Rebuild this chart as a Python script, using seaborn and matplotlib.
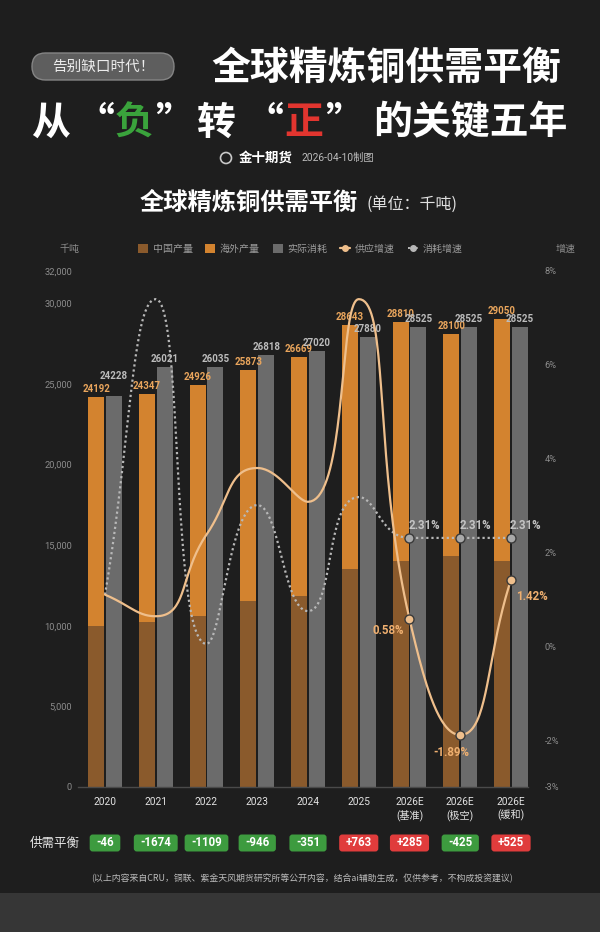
import numpy as np
import pandas as pd
import matplotlib
matplotlib.use("Agg")
import matplotlib.pyplot as plt
import seaborn as sns
from matplotlib.patches import Patch, FancyBboxPatch, Circle, Rectangle
from matplotlib.lines import Line2D
from matplotlib.transforms import blended_transform_factory, IdentityTransform
from matplotlib.ticker import FixedLocator, FuncFormatter

# ---------------- data ----------------
categories = ['2020', '2021', '2022', '2023', '2024', '2025',
              '2026E\n(基准)', '2026E\n(极空)', '2026E\n(缓和)']
china_output = [10000, 10250, 10600, 11550, 11850, 13550, 14000, 14300, 14000]
total_supply = [24192, 24347, 24926, 25873, 26669, 28643, 28810, 28100, 29050]
consumption = [24228, 26021, 26035, 26818, 27020, 27880, 28525, 28525, 28525]
supply_growth = [1.10, 0.64, 2.38, 3.80, 3.08, 7.40, 0.58, -1.89, 1.42]
consumption_growth = [1.10, 7.40, 0.05, 3.01, 0.75, 3.18, 2.31, 2.31, 2.31]
balance = [-46, -1674, -1109, -946, -351, 763, 285, -425, 525]
left_ticks = [0, 5000, 10000, 15000, 20000, 25000, 30000, 32000]
right_ticks = [-3, -2, 0, 2, 4, 6, 8]
legend_labels = ['中国产量', '海外产量', '实际消耗', '供应增速', '消耗增速']

# ---------------- style ----------------
BG = '#1e1e1e'
ORANGE = '#d3832f'
BROWN = '#8a5a2c'
GRAY = '#6b6b6b'
PEACH = '#efbf8c'
LGRAY = '#b8b8b8'
GREEN = '#3d9b3f'
RED = '#e03c3c'
CJK = ['Noto Sans CJK SC', 'DejaVu Sans']
NUM = ['Roboto', 'Noto Sans CJK SC', 'DejaVu Sans']

sns.set_theme(style='ticks')
plt.rcParams['font.family'] = NUM
plt.rcParams['axes.unicode_minus'] = False

W, H = 600, 932
fig = plt.figure(figsize=(W / 100, H / 100), dpi=100, facecolor=BG)


def fy(y):
    return 1 - y / H


def fx(x):
    return x / W


ax = fig.add_axes([fx(78), fy(787), 450 / W, 516 / H])
ax.set_facecolor('none')

# bars: total supply (orange) and consumption (gray)
df = pd.DataFrame({'cat': categories * 2,
                   'series': ['供应'] * len(categories) + ['消耗'] * len(categories),
                   'val': total_supply + consumption})
sns.barplot(data=df, x='cat', y='val', hue='series', hue_order=['供应', '消耗'],
            palette=[ORANGE, GRAY], width=0.7, gap=0.1, saturation=1,
            errorbar=None, legend=False, linewidth=0, ax=ax)
supply_bars = list(ax.containers[0])
cons_bars = list(ax.containers[1])

# China portion overlay
df2 = pd.DataFrame({'cat': categories * 2,
                    'series': ['供应'] * len(categories) + ['消耗'] * len(categories),
                    'val': china_output + [0] * len(categories)})
sns.barplot(data=df2, x='cat', y='val', hue='series', hue_order=['供应', '消耗'],
            palette=[BROWN, GRAY], width=0.7, gap=0.1, saturation=1,
            errorbar=None, legend=False, linewidth=0, ax=ax)

ax.set_xlim(-0.532, 8.335)
ax.set_ylim(0, 32000)
ax.set_xlabel('')
ax.set_ylabel('')
ax.yaxis.set_major_locator(FixedLocator(left_ticks))
ax.yaxis.set_major_formatter(FuncFormatter(lambda v, p: f'{int(v):,}'))
ax.tick_params(axis='y', length=0, pad=4.3, labelcolor='#8c8c8c', labelsize=6.7)
ax.tick_params(axis='x', length=0, pad=7, labelcolor='#e2e2e2', labelsize=7.3)
for lab in ax.get_xticklabels():
    lab.set_fontfamily(NUM)
    lab.set_linespacing(1.35)
for s in ['left', 'right', 'top']:
    ax.spines[s].set_visible(False)
ax.spines['bottom'].set_color('#4a4a4a')
ax.spines['bottom'].set_linewidth(1.0)
ax.grid(False)

# bar value labels
for i, (rs, rc) in enumerate(zip(supply_bars, cons_bars)):
    cx = rs.get_x() + rs.get_width() / 2
    ax.annotate(f'{total_supply[i]}', (cx, total_supply[i]), xytext=(0, 5.8),
                textcoords='offset points', ha='center', va='center',
                fontsize=7, fontweight='bold', color='#e9a55c', family=NUM)
    cx2 = rc.get_x() + rc.get_width() / 2
    off = 14.4 if i == 0 else 5.8
    ax.annotate(f'{consumption[i]}', (cx2, consumption[i]), xytext=(0, off),
                textcoords='offset points', ha='center', va='center',
                fontsize=7, fontweight='bold', color='#bcbcbc', family=NUM)

# ---------------- growth lines ----------------
ax2 = ax.twinx()
ax2.set_ylim(-3, 8)
ax2.yaxis.set_major_locator(FixedLocator(right_ticks))
ax2.yaxis.set_major_formatter(FuncFormatter(lambda v, p: f'{int(v)}%'))
ax2.tick_params(axis='y', length=0, pad=12, labelcolor='#8c8c8c', labelsize=6.7)
for s in ['left', 'right', 'top', 'bottom']:
    ax2.spines[s].set_visible(False)
ax2.grid(False)
ax2.set_ylabel('')


def smooth_curve(ys, sx=50.75, sy=47.0, smooth=0.5, n=40):
    xs = np.arange(len(ys), dtype=float)
    P = np.column_stack([xs * sx, np.asarray(ys, float) * sy])
    N = len(P)
    cin = P.copy()
    cout = P.copy()
    for i in range(N):
        cur = P[i]
        prev = P[i - 1] if i > 0 else P[i]
        nxt = P[i + 1] if i < N - 1 else P[i]
        v = nxt - prev
        l0 = np.hypot(*(cur - prev))
        l1 = np.hypot(*(nxt - cur))
        if l0 + l1 == 0:
            continue
        r = l1 / (l0 + l1)
        co = cur + v * smooth * r
        ci = cur - v * smooth * (1 - r)
        if i < N - 1:
            co = np.clip(co, np.minimum(cur, nxt), np.maximum(cur, nxt))
            if l0 > 0:
                ci = cur - (co - cur) * l0 / l1
        if i > 0:
            ci = np.clip(ci, np.minimum(prev, cur), np.maximum(prev, cur))
            if l1 > 0:
                co = cur + (cur - ci) * l1 / l0
        cin[i] = ci
        cout[i] = co
    t = np.linspace(0, 1, n)[:, None]
    segs = []
    for i in range(N - 1):
        p0, p1, p2, p3 = P[i], cout[i], cin[i + 1], P[i + 1]
        b = ((1 - t) ** 3) * p0 + 3 * ((1 - t) ** 2) * t * p1 + 3 * (1 - t) * t ** 2 * p2 + t ** 3 * p3
        segs.append(b if i == 0 else b[1:])
    B = np.vstack(segs)
    return B[:, 0] / sx, B[:, 1] / sy


sx_, sy_ = smooth_curve(supply_growth)
cx_, cy_ = smooth_curve(consumption_growth)
ax2.plot(cx_, cy_, color=LGRAY, lw=1.6, linestyle=(0, (1, 1.3)), zorder=3)
ax2.plot(sx_, sy_, color=PEACH, lw=1.6, zorder=4)

idx_e = [6, 7, 8]
ax2.plot(idx_e, [consumption_growth[i] for i in idx_e], linestyle='none', marker='o',
         ms=6.5, mfc='#a9a9a9', mec='#3a3a3a', mew=1.0, zorder=5)
ax2.plot(idx_e, [supply_growth[i] for i in idx_e], linestyle='none', marker='o',
         ms=6.5, mfc=PEACH, mec='#3a3a3a', mew=1.0, zorder=6)

for i in idx_e:
    ax2.annotate(f'{consumption_growth[i]:.2f}%', (i, consumption_growth[i]),
                 xytext=(-0.7, 8.6), textcoords='offset points', ha='left', va='center',
                 fontsize=8.3, fontweight='bold', color='#c4c4c4', family=NUM, zorder=7)
sup_offsets = {6: (-4.3, -8.0, 'right'), 7: (-6.5, -13.0, 'center'), 8: (3.6, -12.0, 'left')}
for i, (dx, dy, ha) in sup_offsets.items():
    ax2.annotate(f'{supply_growth[i]:.2f}%', (i, supply_growth[i]),
                 xytext=(dx, dy), textcoords='offset points', ha=ha, va='center',
                 fontsize=8.3, fontweight='bold', color='#f0b070', family=NUM, zorder=7)

# ---------------- legend & axis captions ----------------
handles = [Patch(facecolor=BROWN, edgecolor='none'),
           Patch(facecolor=ORANGE, edgecolor='none'),
           Patch(facecolor=GRAY, edgecolor='none'),
           Line2D([0], [0], color=PEACH, lw=1.6, marker='o', ms=4, mfc=PEACH, mec=PEACH),
           Line2D([0], [0], color=LGRAY, lw=1.4, linestyle=(0, (1, 1)), marker='o', ms=4,
                  mfc=LGRAY, mec=LGRAY)]
leg = fig.legend(handles, legend_labels, loc='center', bbox_to_anchor=(fx(300), fy(249)),
                 ncol=5, frameon=False, labelcolor='#9a9a9a',
                 handlelength=1.0, handleheight=0.9, handletextpad=0.5, columnspacing=1.25,
                 prop={'family': CJK, 'size': 7.2})
fig.text(fx(69), fy(249), '千吨', ha='center', va='center', fontsize=7.2,
         color='#8c8c8c', family=CJK)
fig.text(fx(566), fy(249), '增速', ha='center', va='center', fontsize=7.2,
         color='#8c8c8c', family=CJK)

# chart title
fig.text(fx(140), fy(203), '全球精炼铜供需平衡', ha='left', va='center', fontsize=17.5,
         fontweight='bold', color='white', family=CJK)
fig.text(fx(367), fy(204), '(单位：千吨)', ha='left', va='center', fontsize=11.5,
         color='#e0e0e0', family=CJK)

# ---------------- header ----------------
pill = FancyBboxPatch((32, H - 80), 142, 27, boxstyle='round,pad=0,rounding_size=13.5',
                      transform=IdentityTransform(), facecolor='#5e5e5e',
                      edgecolor='#858585', linewidth=1.0, zorder=1)
fig.add_artist(pill)
fig.text(fx(103), fy(66.5), '告别缺口时代！', ha='center', va='center', fontsize=10.5,
         color='#ececec', family=CJK, zorder=2)
fig.text(fx(386), fy(68), '全球精炼铜供需平衡', ha='center', va='center', fontsize=28,
         fontweight='bold', color='white', family=CJK)

line2 = [('从', 50, 'center', 'white'), ('“', 114, 'right', 'white'),
         ('负', 134, 'center', '#3aa33c'), ('”', 155, 'left', 'white'),
         ('转', 216, 'center', 'white'), ('“', 283, 'right', 'white'),
         ('正', 304, 'center', '#e2352f'), ('”', 325, 'left', 'white'),
         ('的关键五年', 373, 'left', 'white')]
for ch, x, ha, c in line2:
    fig.text(fx(x), fy(123), ch, ha=ha, va='center', fontsize=28,
             fontweight='bold', color=c, family=CJK)

logo = Circle((226, H - 158), 5.5, transform=IdentityTransform(), facecolor='none',
              edgecolor='#c8c8c8', linewidth=1.2)
fig.add_artist(logo)
fig.text(fx(239), fy(158), '金十期货', ha='left', va='center', fontsize=9.7,
         fontweight='bold', color='white', family=CJK)
fig.text(fx(302), fy(158), '2026-04-10制图', ha='left', va='center', fontsize=7.4,
         color='#bdbdbd', family=NUM)

# ---------------- balance row ----------------
fig.text(fx(55), fy(843), '供需平衡', ha='center', va='center', fontsize=9,
         color='#e6e6e6', family=CJK)
blend = blended_transform_factory(ax.transData, fig.transFigure)
badge_texts = []
for i, b in enumerate(balance):
    s = f'+{b}' if b > 0 else f'{b}'
    t = fig.text(i, fy(843), s, transform=blend, ha='center', va='center', fontsize=8.3,
                 fontweight='bold', color='white', family=NUM, zorder=5)
    badge_texts.append((t, RED if b > 0 else GREEN))

# footer
fig.text(fx(302), fy(878),
         '(以上内容来自CRU，铜联、紫金天风期货研究所等公开内容，结合ai辅助生成，仅供参考，不构成投资建议)',
         ha='center', va='center', fontsize=6.4, color='#bcbcbc', family=CJK)
fig.add_artist(Rectangle((0, 0), 1, (H - 893) / H, transform=fig.transFigure,
                         facecolor='#363636', edgecolor='none', zorder=0))

fig.canvas.draw()
for t, col in badge_texts:
    bb = t.get_window_extent()
    cy = H - 843
    p = FancyBboxPatch((bb.x0 - 6.5, cy - 8.5), bb.width + 13, 17,
                       boxstyle='round,pad=0,rounding_size=3', transform=IdentityTransform(),
                       facecolor=col, edgecolor='none', zorder=1)
    fig.add_artist(p)

fig.savefig('out.png', dpi=100, facecolor=BG)
